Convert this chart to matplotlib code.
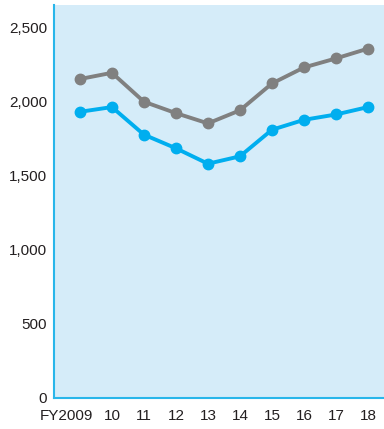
import matplotlib.pyplot as plt
import matplotlib.transforms as mtransforms
from matplotlib.ticker import FuncFormatter

years = ['FY2009', '10', '11', '12', '13', '14', '15', '16', '17', '18']
gray_vals = [2150, 2192, 1997, 1920, 1851, 1939, 2120, 2228, 2289, 2355]
blue_vals = [1929, 1961, 1775, 1683, 1579, 1629, 1808, 1875, 1911, 1961]

plt.rcParams['font.family'] = ['Liberation Sans', 'DejaVu Sans']

fig = plt.figure(figsize=(3.84, 4.29), dpi=100)
ax = fig.add_axes([0.1406, 0.0723, 0.8594, 0.9157])
ax.set_facecolor('#d5ecf9')

x = range(len(years))
ax.plot(x, gray_vals, color='#808080', lw=2.8, marker='o', ms=7.5)
ax.plot(x, blue_vals, color='#00aeef', lw=2.8, marker='o', ms=7.5)

ax.set_xlim(-0.81, 9.5)
ax.set_ylim(0, 2648)
ax.set_xticks(list(x))
ax.set_xticklabels(years)
ax.set_yticks([0, 500, 1000, 1500, 2000, 2500])
ax.yaxis.set_major_formatter(FuncFormatter(lambda v, p: f'{int(v):,}'))
ax.tick_params(length=0, labelsize=11, colors='#231f20', pad=5)
ax.tick_params(axis='x', pad=8)

# shift the first label left like the original
first = ax.get_xticklabels()[0]
first.set_transform(first.get_transform() + mtransforms.ScaledTranslation(-13 / 100, 0, fig.dpi_scale_trans))

for s in ['top', 'right']:
    ax.spines[s].set_visible(False)
for s in ['left', 'bottom']:
    ax.spines[s].set_color('#29b6ea')
    ax.spines[s].set_linewidth(1.5)

fig.savefig('out.png', dpi=100)
